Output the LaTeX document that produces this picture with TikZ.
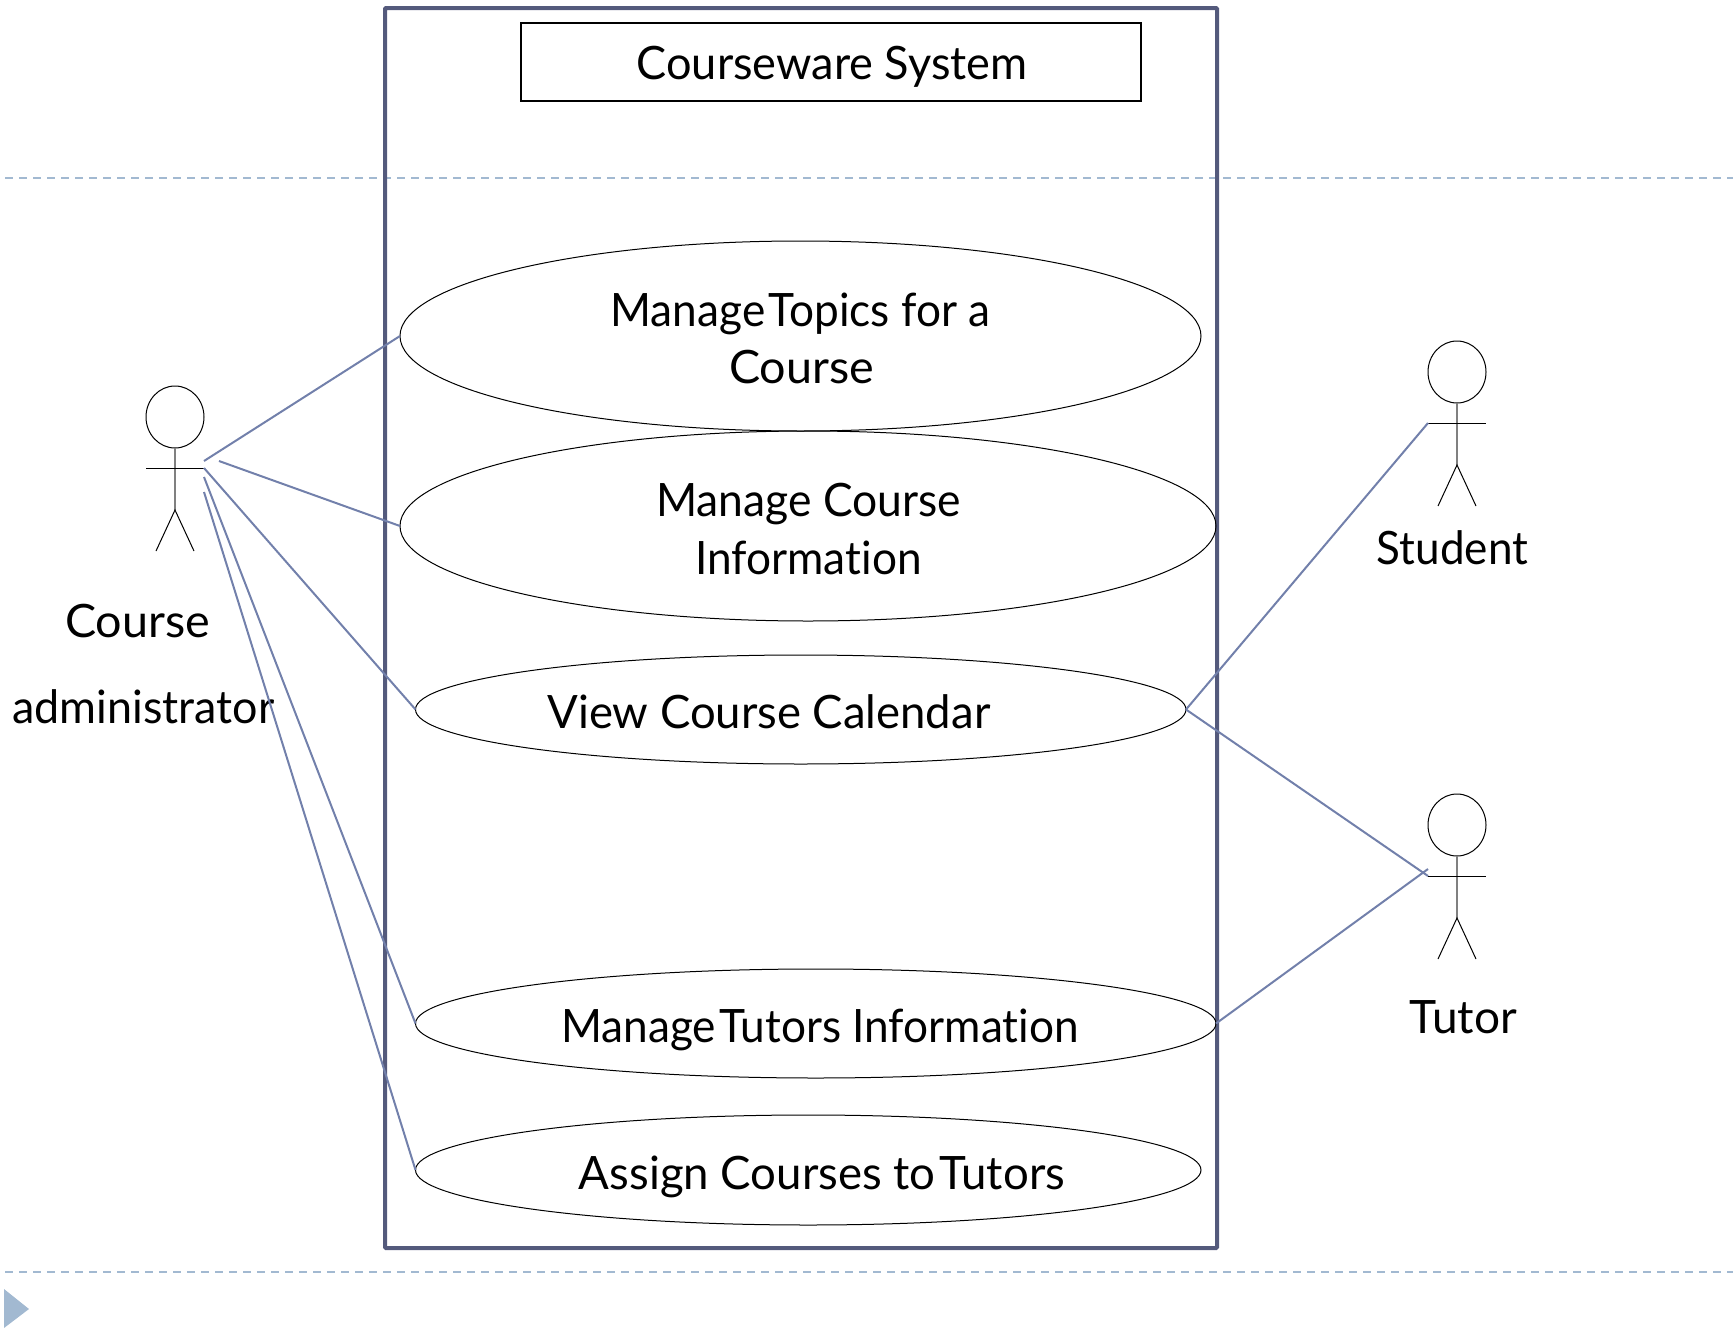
\documentclass[tikz,border=0pt]{standalone}
\usepackage{fontspec}
\setmainfont{Lato}[Ligatures=NoCommon]
\usetikzlibrary{shapes.geometric}
\definecolor{framec}{HTML}{545A7C}
\definecolor{linkc}{HTML}{7280AB}
\definecolor{dashc}{HTML}{A2B9D1}
\newcommand{\strch}[1]{\addfontfeature{FakeStretch=#1}}
\tikzset{
  usecase/.style={draw=black,line width=1pt,shape=ellipse,inner sep=0pt,outer sep=0pt},
  lbl/.style={anchor=base,inner sep=0pt,outer sep=0pt,text=black,font=\fontsize{46}{46}\selectfont},
  link/.style={draw=linkc,line width=2pt},
  guide/.style={draw=dashc,line width=1.6pt,dash pattern=on 8pt off 6pt},
  limb/.style={draw=black,line width=1pt},
  spine/.style={draw=black!50,line width=1.6pt}
}
\newcommand{\stickman}[3]{% name, x centre, y of head top
  \node[draw=black,line width=1pt,shape=ellipse,minimum width=58pt,minimum height=62pt,inner sep=0pt,outer sep=0pt] (#1head) at (#2,#3+31) {};
  \coordinate (#1neck) at (#2,#3+62);
  \coordinate (#1hip) at (#2,#3+124);
  \coordinate (#1armL) at (#2-29,#3+82);
  \coordinate (#1armR) at (#2+29,#3+82);
  \coordinate (#1footL) at (#2-19,#3+165);
  \coordinate (#1footR) at (#2+19,#3+165);
  \draw[spine] (#1neck) -- (#1hip);
  \draw[limb] (#1armL) -- (#1armR);
  \draw[limb] (#1footL) -- (#1hip) -- (#1footR);
}
\begin{document}
\begin{tikzpicture}[x=1pt,y=-1pt]
\useasboundingbox (0,0) rectangle (1733,1328);
% slide furniture
\coordinate (gt1) at (5,178); \coordinate (gt2) at (1733,178);
\coordinate (gb1) at (5,1272); \coordinate (gb2) at (1733,1272);
\draw[guide] (gt1) -- (gt2);
\draw[guide] (gb1) -- (gb2);
\fill[dashc] (4,1289) -- (29,1309) -- (4,1328) -- cycle;
% system frame
\node[draw=framec,line width=4pt,rounded corners=1pt,minimum width=832pt,minimum height=1240pt,inner sep=0pt,outer sep=0pt] (frame) at (801,628) {};
\node[draw=black,line width=1.6pt,minimum width=620pt,minimum height=78pt,inner sep=0pt,outer sep=0pt] (title) at (831,62) {};
\node[lbl] (titletext) at (832,79) {\strch{0.98}Courseware System};
% use cases
\node[usecase,minimum width=801pt,minimum height=190pt] (e1) at (800.5,336) {};
\node[usecase,minimum width=816pt,minimum height=190pt] (e2) at (808,526) {};
\node[usecase,minimum width=770.5pt,minimum height=109pt] (e3) at (800.75,709.5) {};
\node[usecase,minimum width=800.5pt,minimum height=109pt] (e4) at (815.75,1023.5) {};
\node[usecase,minimum width=785.5pt,minimum height=110pt] (e5) at (808.25,1170) {};
\node[lbl] (t1a) at (800.5,326) {\strch{0.96}Manage\hspace{-8pt} Topics for a};
\node[lbl] (t1b) at (801.5,383) {\strch{1.015}Course};
\node[lbl] (t2a) at (808.5,516) {\strch{0.965}Manage Course};
\node[lbl] (t2b) at (808.5,574) {\strch{0.96}Information};
\node[lbl] (t3) at (769,728) {\strch{0.988}View Course Calendar};
\node[lbl] (t4) at (820,1042) {\strch{0.96}Manage\hspace{-8pt} Tutors Information};
\node[lbl] (t5) at (822,1189) {\strch{0.99}Assign Courses to\hspace{-8pt} Tutors};
% actors
\stickman{adm}{175}{386}
\stickman{stu}{1457}{341}
\stickman{tut}{1457}{794}
\node[lbl] (admA) at (137.5,637) {\strch{1.015}Course};
\node[lbl] (admB) at (143.5,723.5) {\strch{0.975}administrator};
\node[lbl] (stuL) at (1452.5,564) {\strch{0.958}Student};
\node[lbl] (tutL) at (1463.5,1033) {Tutor};
% connector ends at the actors
\coordinate (a1) at (204,461);
\coordinate (a2) at (219,461);
\coordinate (a3) at (204,468);
\coordinate (a4) at (204,477);
\coordinate (a5) at (204,492);
\coordinate (s1) at (1428,423);
\coordinate (u1) at (1428,876);
\coordinate (u2) at (1428,869);
\draw[link] (a1) -- (e1.west);
\draw[link] (a2) -- (e2.west);
\draw[link] (a3) -- (e3.west);
\draw[link] (a4) -- (e4.west);
\draw[link] (a5) -- (e5.west);
\draw[link] (e3.east) -- (s1);
\draw[link] (e3.east) -- (u1);
\draw[link] (e4.east) -- (u2);
\end{tikzpicture}
\end{document}
